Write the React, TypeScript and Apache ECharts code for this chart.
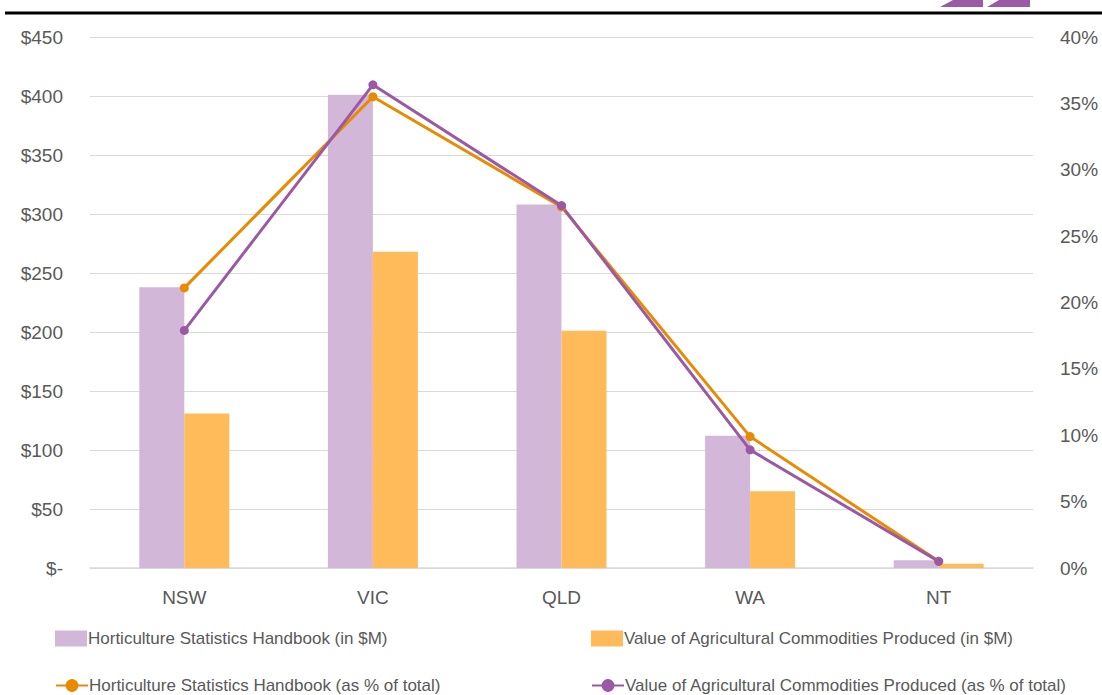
import React, { useEffect, useRef } from "react";
import * as echarts from "echarts";

const categories = ["NSW", "VIC", "QLD", "WA", "NT"];
const hortValue = [238, 401, 308, 112, 6.5];
const agriValue = [131, 268, 201, 65, 3.5];
const hortPct = [21.1, 35.5, 27.2, 9.9, 0.5];
const agriPct = [17.9, 36.4, 27.3, 8.9, 0.5];

const nameHortVal = "Horticulture Statistics Handbook (in $M)";
const nameAgriVal = "Value of Agricultural Commodities Produced (in $M)";
const nameHortPct = "Horticulture Statistics Handbook (as % of total)";
const nameAgriPct = "Value of Agricultural Commodities Produced (as % of total)";

const FONT = "'Liberation Sans Narrow', 'Arial Narrow', 'Liberation Sans', sans-serif";
const TXT = "#595959";
const PURPLE_BAR = "#D3B7D8";
const ORANGE_BAR = "#FFBA5A";
const ORANGE_LINE = "#E98B00";
const PURPLE_LINE = "#9A58A6";

export default function App() {
  const ref = useRef<HTMLDivElement>(null);
  useEffect(() => {
    const chart = echarts.init(ref.current!, null, { renderer: "svg" });
    const legendText = {
      color: TXT,
      fontFamily: FONT,
      fontSize: 17,
      padding: [0, 0, 0, -4],
    };
    chart.setOption({
      animation: false,
      backgroundColor: "#ffffff",
      grid: { left: 90, right: 69, top: 37, bottom: 127 },
      xAxis: {
        type: "category",
        data: categories,
        axisTick: { show: false },
        axisLine: { lineStyle: { color: "#d9d9d9", width: 1.5 } },
        axisLabel: { color: TXT, fontFamily: FONT, fontSize: 19, margin: 20 },
      },
      yAxis: [
        {
          type: "value",
          min: 0,
          max: 450,
          interval: 50,
          axisLine: { show: false },
          axisTick: { show: false },
          splitLine: { lineStyle: { color: "#d9d9d9", width: 1 } },
          axisLabel: {
            color: TXT,
            fontFamily: FONT,
            fontSize: 19,
            margin: 27,
            formatter: (v: number) => (v === 0 ? "$-" : "$" + v),
          },
        },
        {
          type: "value",
          min: 0,
          max: 40,
          interval: 5,
          axisLine: { show: false },
          axisTick: { show: false },
          splitLine: { show: false },
          axisLabel: {
            color: TXT,
            fontFamily: FONT,
            fontSize: 19,
            margin: 27,
            formatter: (v: number) => v + "%",
          },
        },
      ],
      legend: [
        {
          data: [nameHortVal],
          left: 50,
          top: 625,
          itemWidth: 32,
          itemHeight: 16,
          icon: "rect",
          textStyle: legendText,
        },
        {
          data: [nameAgriVal],
          left: 586,
          top: 625,
          itemWidth: 32,
          itemHeight: 16,
          icon: "rect",
          textStyle: legendText,
        },
        {
          data: [nameHortPct],
          left: 50,
          top: 672,
          itemWidth: 32,
          itemHeight: 16,
          textStyle: legendText,
        },
        {
          data: [nameAgriPct],
          left: 586,
          top: 672,
          itemWidth: 32,
          itemHeight: 16,
          textStyle: legendText,
        },
      ],
      series: [
        {
          name: nameHortVal,
          type: "bar",
          data: hortValue,
          barWidth: 45,
          barGap: "0%",
          itemStyle: { color: PURPLE_BAR },
        },
        {
          name: nameAgriVal,
          type: "bar",
          data: agriValue,
          barWidth: 45,
          barGap: "0%",
          itemStyle: { color: ORANGE_BAR },
        },
        {
          name: nameHortPct,
          type: "line",
          yAxisIndex: 1,
          data: hortPct,
          symbol: "circle",
          symbolSize: 9,
          lineStyle: { color: ORANGE_LINE, width: 3 },
          itemStyle: { color: ORANGE_LINE },
        },
        {
          name: nameAgriPct,
          type: "line",
          yAxisIndex: 1,
          data: agriPct,
          symbol: "circle",
          symbolSize: 9,
          lineStyle: { color: PURPLE_LINE, width: 3 },
          itemStyle: { color: PURPLE_LINE },
        },
      ],
      graphic: [
        {
          type: "line",
          shape: { x1: 5, y1: 13, x2: 1102, y2: 13 },
          style: { stroke: "#000000", lineWidth: 3 },
        },
        {
          type: "polygon",
          shape: { points: [[953, 0], [983, 0], [983, 7], [940, 7]] },
          style: { fill: "#9B59A6" },
        },
        {
          type: "polygon",
          shape: { points: [[999, 0], [1030, 0], [1030, 7], [987, 7]] },
          style: { fill: "#9B59A6" },
        },
      ],
    });
    return () => chart.dispose();
  }, []);
  return (
    <div
      ref={ref}
      style={{ position: "fixed", left: 0, top: 0, width: 1102, height: 695 }}
    />
  );
}
